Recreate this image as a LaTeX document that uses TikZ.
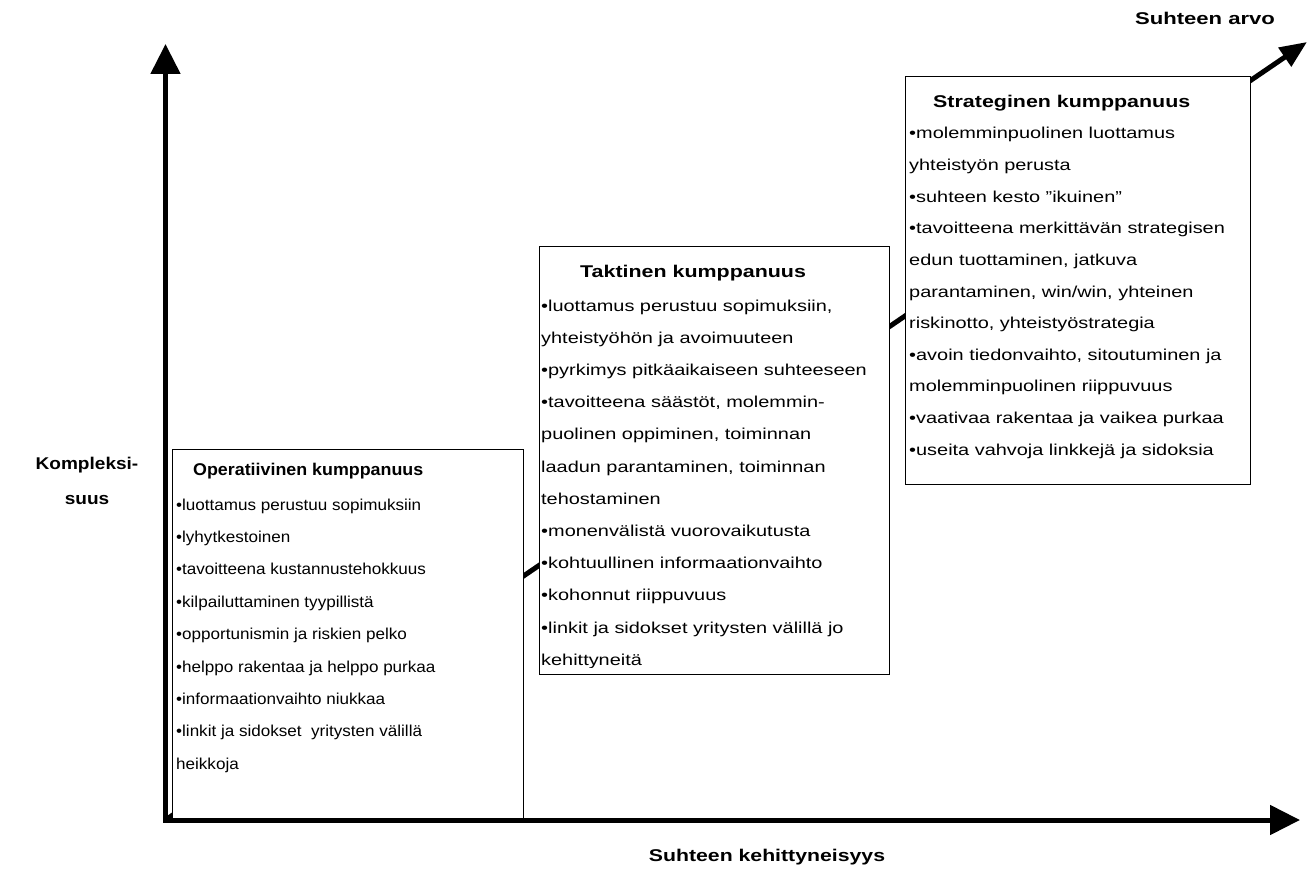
\documentclass[tikz,border=0pt]{standalone}
\usepackage{fontspec}
\setmainfont{Liberation Sans}
\usetikzlibrary{arrows.meta}

\begin{document}
\begin{tikzpicture}[x=1pt,y=-1pt,
    box node/.style={draw,fill=white,line width=1.4pt,anchor=north west,inner sep=0pt},
    title node/.style={anchor=base west,inner sep=0pt,font=\fontsize{17}{20}\selectfont\bfseries\addfontfeature{FakeStretch=#1}},
    title node/.default=1,
    text node/.style={anchor=base west,inner sep=0pt,font=\fontsize{15.8}{19}\selectfont\addfontfeature{FakeStretch=#1}},
    text node/.default=1,
    axis label/.style={inner sep=0pt,font=\fontsize{17}{35}\selectfont\bfseries\addfontfeature{FakeStretch=#1}},
    axis label/.default=1,
    axis line/.style={line width=5pt,{Triangle[length=30pt,width=29pt]}-{Triangle[length=30pt,width=29pt]}}]

  \useasboundingbox (0,0) rectangle (1309,872);

  \coordinate (origo) at (165.5,820);
  \coordinate (ylos)  at (165.5,44);
  \coordinate (oikea) at (1300,820);
  \coordinate (arvo)  at (1307,42);

  % suhteen arvo, jaa laatikoiden alle
  \draw[line width=5pt,-{Triangle[length=27pt,width=22pt]}] (origo) -- (arvo);

  % laatikot
  \node[box node,minimum width=351pt,minimum height=369pt] (oper)  at (172,449) {};
  \node[box node,minimum width=350pt,minimum height=428pt] (takt)  at (539,246) {};
  \node[box node,minimum width=345pt,minimum height=408pt] (strat) at (905,76)  {};

  % operatiivinen
  \node[title node=1.05] (oper title) at (193,475) {Operatiivinen kumppanuus};
  \foreach \rivi [count=\i from 0] in {•luottamus perustuu sopimuksiin,
      •lyhytkestoinen, •tavoitteena kustannustehokkuus,
      •kilpailuttaminen tyypillistä, •opportunismin ja riskien pelko,
      •helppo rakentaa ja helppo purkaa, •informaationvaihto niukkaa,
      •linkit ja sidokset\ \ yritysten välillä, heikkoja}
    \node[text node=1.08] (oper-\i) at (176,510+32.4*\i) {\rivi};

  % taktinen
  \node[title node=1.26] (takt title) at (580,277) {Taktinen kumppanuus};
  \begin{scope}
    \clip (539,246) rectangle (889,667);
    \foreach \rivi [count=\i from 0] in {{•luottamus perustuu sopimuksiin,},
        yhteistyöhön ja avoimuuteen, •pyrkimys pitkäaikaiseen suhteeseen,
        {•tavoitteena säästöt, molemmin-}, {puolinen oppiminen, toiminnan},
        {laadun parantaminen, toiminnan}, tehostaminen,
        •monenvälistä vuorovaikutusta, •kohtuullinen informaationvaihto,
        •kohonnut riippuvuus, •linkit ja sidokset yritysten välillä jo,
        kehittyneitä}
      \node[text node=1.26] (takt-\i) at (541,311+32.2*\i) {\rivi};
  \end{scope}

  % strateginen
  \node[title node=1.26] (strat title) at (933,108) {Strateginen kumppanuus};
  \foreach \rivi [count=\i from 0] in {•molemminpuolinen luottamus,
      yhteistyön perusta, •suhteen kesto ”ikuinen”,
      •tavoitteena merkittävän strategisen, {edun tuottaminen, jatkuva},
      {parantaminen, win/win, yhteinen}, {riskinotto, yhteistyöstrategia},
      {•avoin tiedonvaihto, sitoutuminen ja}, molemminpuolinen riippuvuus,
      •vaativaa rakentaa ja vaikea purkaa, •useita vahvoja linkkejä ja sidoksia}
    \node[text node=1.26] (strat-\i) at (909,139+31.6*\i) {\rivi};

  % akselit
  \draw[axis line] (ylos) -- (origo) -- (oikea);

  \node[axis label=1.25] (x label) at (767,857) {Suhteen kehittyneisyys};
  \node[axis label=1.12,align=center] (y label) at (87,481) {Kompleksi-\\suus};
  \node[axis label=1.3] (arvo label) at (1205,18) {Suhteen arvo};
\end{tikzpicture}
\end{document}
